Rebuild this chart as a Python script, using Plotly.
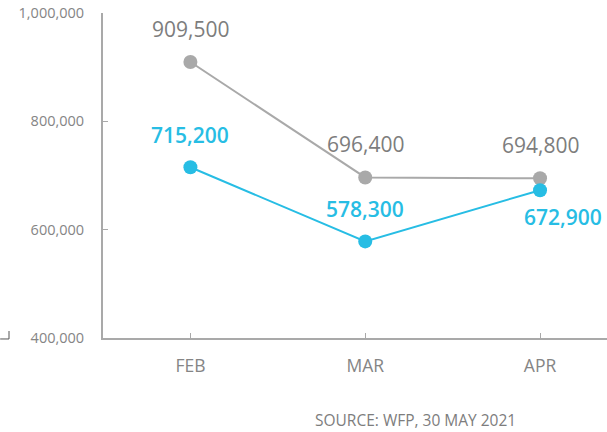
import plotly.graph_objects as go

months = ["FEB", "MAR", "APR"]
gray_values = [909500, 696400, 694800]
blue_values = [715200, 578300, 672900]
gray_labels = ["909,500", "696,400", "694,800"]
blue_labels = ["715,200", "578,300", "672,900"]
y_ticks = [400000, 600000, 800000, 1000000]
y_tick_labels = ["400,000", "600,000", "800,000", "1,000,000"]
source_text = "SOURCE: WFP, 30 MAY 2021"

GRAY = "#a9a9a9"
GRAY_TEXT = "#7d7d7d"
TICK_TEXT = "#858585"
BLUE = "#27bde4"
FONT = "Open Sans"

fig = go.Figure()
fig.add_trace(go.Scatter(
    x=months, y=gray_values, mode="lines+markers",
    line=dict(color=GRAY, width=2), marker=dict(color=GRAY, size=14),
    cliponaxis=False, showlegend=False, hoverinfo="skip"))
fig.add_trace(go.Scatter(
    x=months, y=blue_values, mode="lines+markers",
    line=dict(color=BLUE, width=2), marker=dict(color=BLUE, size=14),
    cliponaxis=False, showlegend=False, hoverinfo="skip"))

annotations = []
gray_yshift = [33, 33, 33]
for m, v, t, ys in zip(months, gray_values, gray_labels, gray_yshift):
    annotations.append(dict(x=m, y=v, text=t, showarrow=False, yshift=ys,
                            xanchor="center", yanchor="middle",
                            font=dict(family=FONT, size=21, color=GRAY_TEXT)))
blue_yshift = [32, 32, -27]
blue_xshift = [0, 0, 23]
for m, v, t, ys, xs in zip(months, blue_values, blue_labels, blue_yshift, blue_xshift):
    annotations.append(dict(x=m, y=v, text=t, showarrow=False, yshift=ys, xshift=xs,
                            xanchor="center", yanchor="middle",
                            font=dict(family=FONT, size=21, color=BLUE, weight=600)))
annotations.append(dict(text=source_text, xref="paper", yref="paper", x=0.62, y=-0.252,
                        xanchor="center", yanchor="middle", showarrow=False,
                        font=dict(family=FONT, size=15.5, color=GRAY_TEXT)))

fig.update_layout(
    width=607, height=432,
    margin=dict(l=103, r=0, t=13, b=94, autoexpand=False),
    paper_bgcolor="white", plot_bgcolor="white",
    font=dict(family=FONT, color=GRAY_TEXT),
    xaxis=dict(range=[-0.5, 2.383], showline=True, linecolor=GRAY, linewidth=2,
               ticks="inside", ticklen=5, tickcolor=GRAY, tickwidth=1, automargin=False,
               showgrid=False, zeroline=False, tickfont=dict(size=17.5, color=TICK_TEXT),
               ticklabelstandoff=11),
    yaxis=dict(range=[400000, 1000000], showline=True, linecolor=GRAY, linewidth=2,
               tickvals=y_ticks, ticktext=y_tick_labels, automargin=False,
               ticks="inside", ticklen=5, tickcolor=GRAY, tickwidth=1,
               showgrid=False, zeroline=False, tickfont=dict(size=14.5, color=TICK_TEXT),
               ticklabelstandoff=14),
    annotations=annotations,
    shapes=[dict(type="path", xref="paper", yref="paper",
                 path="M -0.204 -0.003 L -0.1865 -0.003 L -0.1865 0.0215",
                 line=dict(color="#555555", width=1))],
)

fig.write_html("out.html", config={"displayModeBar": False},
               post_script="document.body.style.margin='0';document.body.style.overflow='hidden';")
